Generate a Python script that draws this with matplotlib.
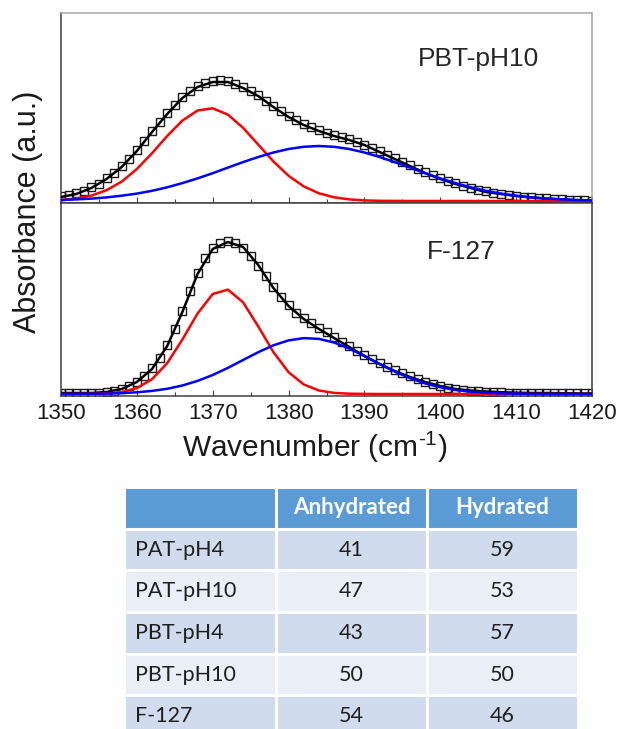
import numpy as np
import matplotlib
matplotlib.use("Agg")
import matplotlib.pyplot as plt
from matplotlib.ticker import MultipleLocator

plt.rcParams['font.family'] = ['Liberation Sans', 'DejaVu Sans']
plt.rcParams['mathtext.fontset'] = 'custom'
plt.rcParams['mathtext.rm'] = 'Liberation Sans'

# --- fitted curves, read every 2 cm-1 ---
wn_fit = np.arange(1350, 1421, 2)

pbt_fit = [0.04, 0.07, 0.13, 0.22, 0.34, 0.50, 0.69, 0.87, 1.03, 1.14, 1.19, 1.19,
           1.13, 1.05, 0.94, 0.84, 0.76, 0.70, 0.65, 0.61, 0.56, 0.49, 0.42, 0.35,
           0.28, 0.22, 0.17, 0.13, 0.09, 0.07, 0.05, 0.035, 0.025, 0.015, 0.008, 0.004]
pbt_anhyd = [0.010, 0.025, 0.054, 0.108, 0.194, 0.320, 0.478, 0.650, 0.804, 0.905, 0.927, 0.864,
             0.732, 0.564, 0.396, 0.252, 0.146, 0.077, 0.037, 0.016, 0.006, 0.002, 0.001, 0,
             0, 0, 0, 0, 0, 0, 0, 0, 0, 0, 0, 0]
pbt_hyd = [0.010, 0.016, 0.024, 0.036, 0.053, 0.074, 0.102, 0.137, 0.179, 0.226, 0.278, 0.334,
           0.389, 0.440, 0.485, 0.520, 0.542, 0.550, 0.542, 0.520, 0.485, 0.440, 0.389, 0.334,
           0.278, 0.226, 0.179, 0.137, 0.102, 0.074, 0.053, 0.036, 0.024, 0.016, 0.010, 0.006]

f127_fit = [0.01, 0.01, 0.01, 0.02, 0.05, 0.12, 0.25, 0.48, 0.82, 1.20, 1.45, 1.52,
            1.47, 1.29, 1.06, 0.88, 0.75, 0.65, 0.56, 0.47, 0.38, 0.30, 0.23, 0.17,
            0.12, 0.08, 0.05, 0.035, 0.025, 0.018, 0.013, 0.01, 0.01, 0.008, 0.006, 0.005]
f127_anhyd = [0, 0, 0.001, 0.006, 0.020, 0.059, 0.148, 0.309, 0.544, 0.805, 1.000, 1.044,
              0.917, 0.676, 0.419, 0.218, 0.096, 0.035, 0.011, 0.003, 0.001, 0, 0, 0,
              0, 0, 0, 0, 0, 0, 0, 0, 0, 0, 0, 0]
f127_hyd = [0, 0.001, 0.002, 0.004, 0.009, 0.017, 0.031, 0.052, 0.085, 0.131, 0.190, 0.261,
            0.340, 0.418, 0.487, 0.536, 0.559, 0.551, 0.515, 0.454, 0.380, 0.300, 0.224, 0.159,
            0.106, 0.067, 0.040, 0.023, 0.012, 0.006, 0.003, 0.001, 0, 0, 0, 0]

# --- measured spectra, every 1 cm-1 ---
wn_data = np.arange(1350, 1421, 1)

pbt_data = [0.05, 0.06, 0.08, 0.10, 0.14, 0.17, 0.23, 0.28, 0.35, 0.42, 0.51, 0.60, 0.70, 0.79,
            0.88, 0.96, 1.04, 1.10, 1.15, 1.18, 1.20, 1.21, 1.20, 1.17, 1.14, 1.10, 1.06, 1.00,
            0.95, 0.90, 0.85, 0.81, 0.77, 0.74, 0.71, 0.68, 0.66, 0.64, 0.62, 0.59, 0.56, 0.53,
            0.50, 0.46, 0.43, 0.39, 0.36, 0.32, 0.29, 0.26, 0.23, 0.20, 0.18, 0.15, 0.13, 0.11,
            0.10, 0.08, 0.07, 0.06, 0.05, 0.045, 0.04, 0.035, 0.03, 0.025, 0.02, 0.015, 0.01,
            0.008, 0.005]
f127_data = [0.01, 0.015, 0.01, 0.012, 0.01, 0.015, 0.02, 0.03, 0.05, 0.08, 0.12, 0.18, 0.26,
             0.36, 0.49, 0.65, 0.83, 1.03, 1.21, 1.36, 1.46, 1.51, 1.53, 1.51, 1.46, 1.38, 1.28,
             1.18, 1.07, 0.97, 0.89, 0.81, 0.76, 0.71, 0.66, 0.62, 0.57, 0.52, 0.48, 0.43, 0.39,
             0.35, 0.31, 0.27, 0.24, 0.21, 0.18, 0.15, 0.12, 0.10, 0.08, 0.065, 0.05, 0.04, 0.035,
             0.03, 0.025, 0.02, 0.02, 0.015, 0.015, 0.012, 0.012, 0.01, 0.012, 0.01, 0.01, 0.012,
             0.01, 0.01, 0.01]

# --- table ---
samples = ["PAT-pH4", "PAT-pH10", "PBT-pH4", "PBT-pH10", "F-127"]
anhydrated = [41, 47, 43, 50, 54]
hydrated = [59, 53, 57, 50, 46]
col_labels = ["", "Anhydrated", "Hydrated"]

W, H = 619, 729
fig = plt.figure(figsize=(W / 100, H / 100), dpi=100)


def fig_box(x0, y0, x1, y1):
    return [x0 / W, 1 - y1 / H, (x1 - x0) / W, (y1 - y0) / H]


ax_top = fig.add_axes(fig_box(61, 13, 592, 203))
ax_bot = fig.add_axes(fig_box(61, 203, 592, 396))

panels = [
    (ax_top, pbt_data, pbt_fit, pbt_anhyd, pbt_hyd, "PBT-pH10", (478, 59), 1.88),
    (ax_bot, f127_data, f127_fit, f127_anhyd, f127_hyd, "F-127", (461, 252), 1.91),
]
for ax, data, fit, anh, hyd, name, pos, ytop in panels:
    ax.plot(wn_data, data, 's', mfc='none', mec='#1a1a1a', ms=5.4, mew=1.0, zorder=2)
    ax.plot(wn_fit, fit, color='black', lw=1.8, zorder=3)
    ax.plot(wn_fit, anh, color='#ff0000', lw=1.8, zorder=4)
    ax.plot(wn_fit, hyd, color='#0000ff', lw=1.8, zorder=5)
    ax.set_xlim(1350, 1420)
    ax.set_ylim(-0.02, ytop)
    ax.set_yticks([])
    ax.xaxis.set_major_locator(MultipleLocator(10))
    ax.xaxis.set_minor_locator(MultipleLocator(5))
    ax.tick_params(axis='x', which='major', direction='in', length=4, width=0.8,
                   color='#404040', labelsize=16, pad=5, labelcolor='#1a1a1a')
    ax.tick_params(axis='x', which='minor', direction='in', length=3, width=0.8,
                   color='#404040')
    for s in ax.spines.values():
        s.set_color('#404040')
        s.set_linewidth(1.1)
    fig.text(pos[0] / W, 1 - pos[1] / H, name, fontsize=19, ha='center', va='center',
             color='#262626')

ax_top.tick_params(axis='x', labelbottom=False)
ax_top.spines['top'].set_color('#a6a6a6')
ax_top.spines['right'].set_color('#a6a6a6')

fig.text(315 / W, 1 - 447 / H, r'Wavenumber (cm$^{\text{-1}}$)', fontsize=21.5,
         ha='center', va='center', color='#1a1a1a')
fig.text(28 / W, 1 - 212 / H, 'Absorbance (a.u.)', fontsize=22, rotation=90,
         ha='center', va='center', color='#1a1a1a')

# table, last row runs off the bottom of the picture
ax_tab = fig.add_axes(fig_box(124, 487, 578, 737))
ax_tab.axis('off')
cells = [[s, str(a), str(h)] for s, a, h in zip(samples, anhydrated, hydrated)]
tab = ax_tab.table(cellText=cells, colLabels=col_labels, bbox=[0, 0, 1, 1],
                   colWidths=[152, 151, 151], cellLoc='center')
tab.auto_set_font_size(False)
for (r, c), cell in tab.get_celld().items():
    cell.set_edgecolor('white')
    cell.set_linewidth(2.2)
    txt = cell.get_text()
    txt.set_fontfamily(['Lato', 'DejaVu Sans'])
    if r == 0:
        cell.set_facecolor('#5b9bd5')
        txt.set_color('white')
        txt.set_fontweight('bold')
        txt.set_fontsize(16)
    else:
        cell.set_facecolor('#d0dbed' if r % 2 == 1 else '#e9eef7')
        txt.set_color('#1f1f1f')
        txt.set_fontsize(15.5)
        if c == 0:
            txt.set_ha('left')
            cell.PAD = 0.07

fig.savefig('out.png', dpi=100)
